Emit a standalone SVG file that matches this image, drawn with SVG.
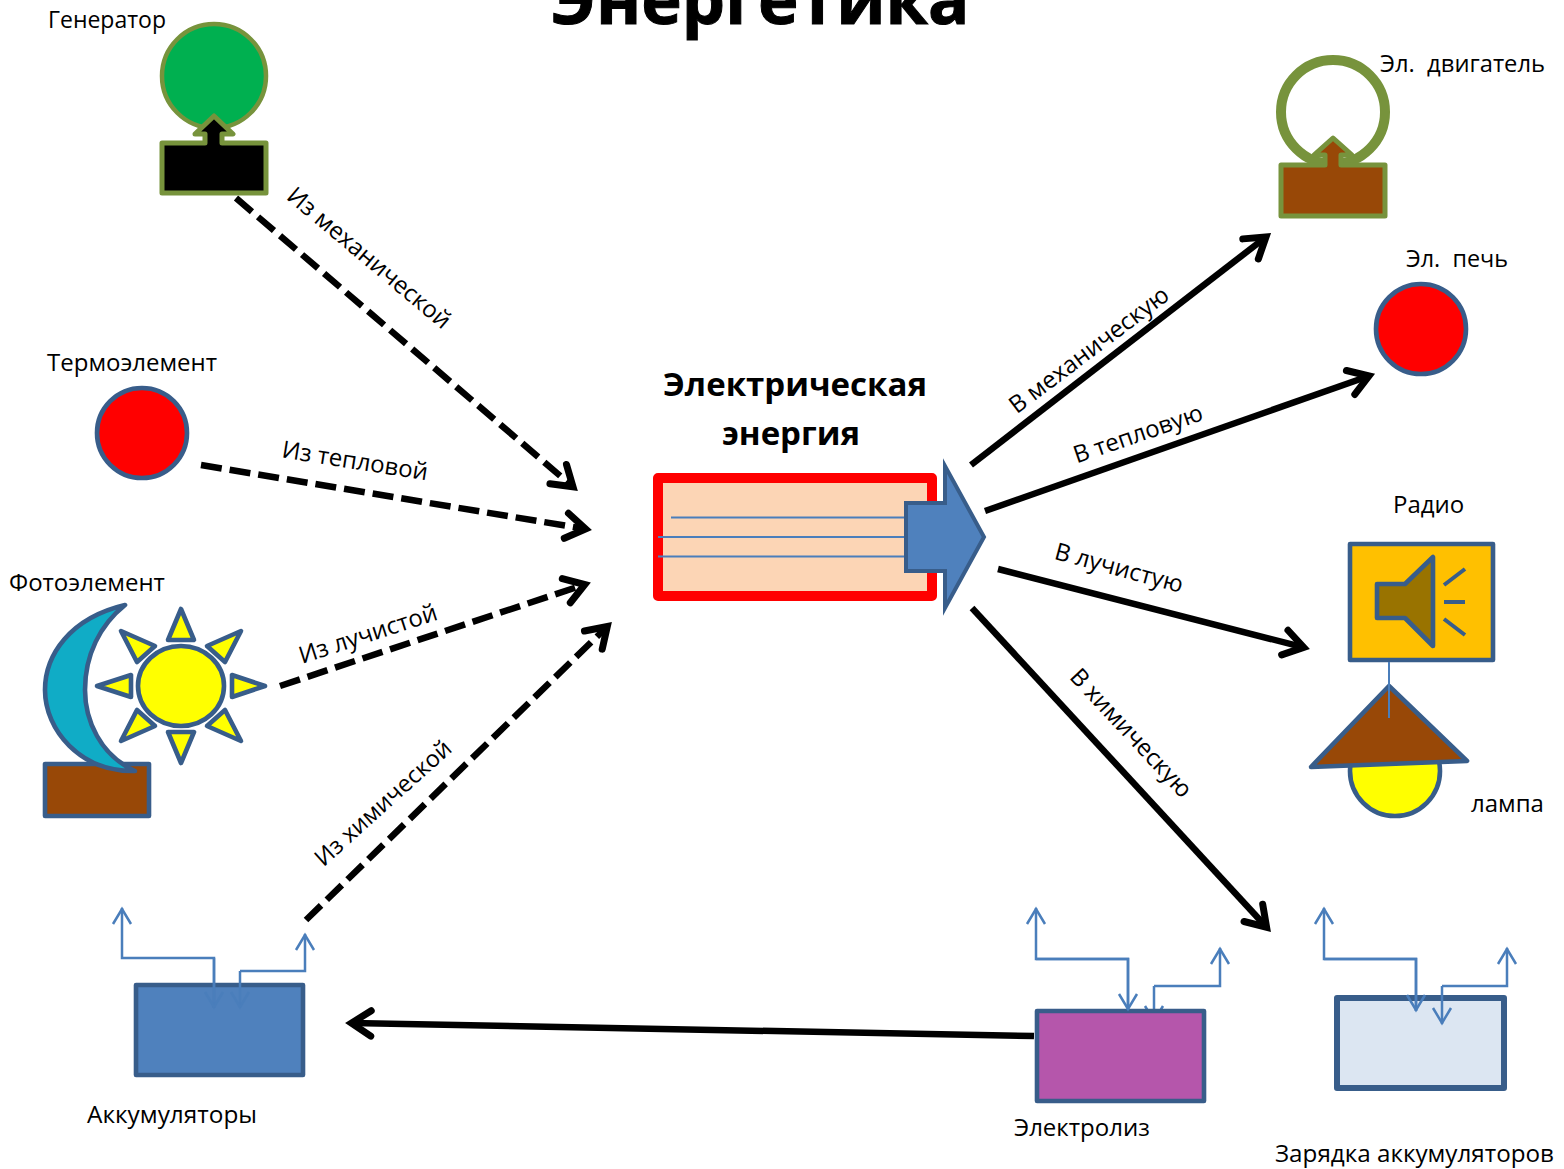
<svg xmlns="http://www.w3.org/2000/svg" width="1564" height="1169" viewBox="0 0 1564 1169">
<style>
text{font-family:"Open Sans","Noto Sans","DejaVu Sans",sans-serif;font-size:24px;fill:#000}
.b{font-weight:700;font-size:33px;text-anchor:middle}
.m{text-anchor:middle}
.arrow{fill:none;stroke:#000;stroke-width:6.500}
.dash{stroke-dasharray:21 8}
.thin{fill:none;stroke:#4a7ebb;stroke-width:2.500;marker-end:url(#ta)}
.dk{stroke:#385d8a;stroke-width:4.600;stroke-linejoin:round}
.gr{stroke:#77933c;stroke-linejoin:round}
.sun{fill:#ff0;stroke:#385d8a;stroke-width:4.600;stroke-linejoin:round}
</style>
<defs>
<marker id="ba" markerUnits="userSpaceOnUse" markerWidth="50" markerHeight="50" refX="36" refY="25" orient="auto"><path d="M16.500,12.300 L36,25 L16.500,37.700" fill="none" stroke="#000" stroke-width="7" stroke-linecap="round" stroke-linejoin="miter" stroke-miterlimit="10"/></marker>
<marker id="ta" markerUnits="userSpaceOnUse" markerWidth="24" markerHeight="24" refX="20" refY="12" orient="auto"><path d="M4,3 L19,12 L4,21" fill="none" stroke="#4a7ebb" stroke-width="2.500"/></marker>
</defs>
<rect width="1564" height="1169" fill="#fff"/>
<text x="760" y="24" class="b" style="font-size:68.500px;stroke:#000;stroke-width:1">Энергетика</text>

<g id="connectors">
<path class="arrow dash" d="M236,198 L573,486.800" marker-end="url(#ba)"/>
<path class="arrow dash" d="M201,465 L585.600,529" marker-end="url(#ba)"/>
<path class="arrow dash" d="M280,686 L584.800,584.500" marker-end="url(#ba)"/>
<path class="arrow dash" d="M306,920 L607.300,626.500" marker-end="url(#ba)"/>
<path class="arrow" d="M971,465 L1266,237" marker-end="url(#ba)"/>
<path class="arrow" d="M985,511 L1369,376" marker-end="url(#ba)"/>
<path class="arrow" d="M998,569 L1303.700,647.400" marker-end="url(#ba)"/>
<path class="arrow" d="M972,608 L1266.600,927.200" marker-end="url(#ba)"/>
<path class="arrow" d="M1034,1036 L351.500,1023.100" marker-end="url(#ba)"/>
</g>
<g id="labels">
<text class="m" transform="translate(369,258) rotate(40)" dy="8">Из механической</text>
<text class="m" transform="translate(355,461) rotate(9)" dy="8">Из тепловой</text>
<text class="m" transform="translate(368,634) rotate(-18)" dy="8">Из лучистой</text>
<text class="m" transform="translate(383,803) rotate(-42)" dy="8" style="font-size:23.500px">Из химической</text>
<text class="m" transform="translate(1089,350) rotate(-37)" dy="8">В механическую</text>
<text class="m" transform="translate(1138,434) rotate(-19)" dy="8">В тепловую</text>
<text class="m" transform="translate(1119,568) rotate(15)" dy="8">В лучистую</text>
<text class="m" transform="translate(1131,733) rotate(47)" dy="8">В химическую</text>
</g>

<g id="generator">
<circle cx="214" cy="76" r="52" fill="#00b050" class="gr" stroke-width="4.500"/>
<path d="M162,143 H205 V134 H195 L214,116 L233,134 H222 V143 H266 V193 H162 Z" fill="#000" class="gr" stroke-width="5"/>
<text x="48" y="28" textLength="118" lengthAdjust="spacingAndGlyphs">Генератор</text>
</g>
<g id="thermo">
<circle cx="142" cy="433" r="45" fill="#f00" class="dk"/>
<text x="47" y="371">Термоэлемент</text>
</g>
<g id="photo">
<rect x="45" y="764" width="104" height="52" fill="#984807" class="dk"/>
<path d="M125,605 C70,618 45,655 45,690 C45,730 80,772 135,771 C100,755 85,720 85,690 C85,655 100,625 125,605 Z" fill="#10acc6" class="dk"/>
<ellipse cx="181" cy="686" rx="43" ry="40" class="sun"/>
<path class="sun" d="M181,609 L194,640 H168 Z"/>
<path class="sun" d="M181,763 L194,732 H168 Z"/>
<path class="sun" d="M265,686 L232,675 V697 Z"/>
<path class="sun" d="M97,686 L131,675 V697 Z"/>
<path class="sun" d="M121,631 L155,646 L137,662 Z"/>
<path class="sun" d="M241,631 L207,646 L225,662 Z"/>
<path class="sun" d="M121,741 L155,726 L137,710 Z"/>
<path class="sun" d="M241,741 L207,726 L225,710 Z"/>
<text x="9" y="591">Фотоэлемент</text>
</g>
<g id="accum">
<rect x="136" y="985" width="167" height="90" fill="#4f81bd" class="dk"/>
<path class="thin" d="M214,1008 V958 H122 V908"/>
<path class="thin" d="M214,958 V1008"/>
<path class="thin" d="M240,971 V1008"/>
<path class="thin" d="M240,971 H305 V934"/>
<text x="87" y="1123" textLength="170" lengthAdjust="spacingAndGlyphs">Аккумуляторы</text>
</g>
<g id="center">
<text x="795" y="396" class="b">Электрическая</text>
<text x="791" y="445" class="b">энергия</text>
<rect x="658" y="478" width="274" height="118" fill="#fcd5b5" stroke="#f00" stroke-width="10" stroke-linejoin="round"/>
<path d="M671,517.500 H905 M658,537 H905 M658,556.500 H905" stroke="#4a7ebb" stroke-width="2" fill="none"/>
<path d="M906,503 H945 V466 L984,537 L945,608 V571 H906 Z" fill="#4f81bd" stroke="#385d8a" stroke-width="4" stroke-miterlimit="10"/>
</g>
<g id="motor">
<circle cx="1333" cy="112" r="52" fill="none" stroke="#77933c" stroke-width="10"/>
<path d="M1281,165 H1325 V155 H1314 L1333,138 L1352,155 H1341 V165 H1385 V216 H1281 Z" fill="#984807" class="gr" stroke-width="5"/>
<text x="1380" y="72" xml:space="preserve" textLength="165" lengthAdjust="spacingAndGlyphs">Эл.  двигатель</text>
</g>
<g id="oven">
<circle cx="1421" cy="329" r="45" fill="#f00" class="dk"/>
<text x="1406" y="267" xml:space="preserve" textLength="102" lengthAdjust="spacingAndGlyphs">Эл.  печь</text>
</g>
<g id="radio">
<rect x="1350" y="544" width="143" height="116" fill="#ffc000" class="dk"/>
<path d="M1377,584 H1405 L1433,557 V646 L1405,618 H1377 Z" fill="#997300" class="dk"/>
<path d="M1444,585 L1465,569 M1444,602 H1465 M1444,619 L1465,635" fill="none" stroke="#385d8a" stroke-width="4"/>
<text x="1393" y="513">Радио</text>
</g>
<g id="lamp">
<circle cx="1395" cy="771" r="45" fill="#ff0" class="dk"/>
<path d="M1389,686 L1467,761 L1311,767 Z" fill="#984807" class="dk"/>
<path d="M1389,662 V718" stroke="#4a7ebb" stroke-width="2" fill="none"/>
<text x="1471" y="812">лампа</text>
</g>
<g id="electrolysis">
<path class="thin" d="M1154,986 V1022"/>
<rect x="1037" y="1011" width="167" height="90" fill="#b556ab" class="dk"/>
<path class="thin" d="M1128,1010 V959 H1036 V908"/>
<path class="thin" d="M1036,959 H1128 V1010"/>
<path class="thin" d="M1154,986 H1220 V948"/>
<text x="1014" y="1136">Электролиз</text>
</g>
<g id="charging">
<rect x="1337" y="998" width="167" height="90" fill="#dce6f2" stroke="#385d8a" stroke-width="6" stroke-linejoin="round"/>
<path class="thin" d="M1416,1011 V959 H1324 V908"/>
<path class="thin" d="M1324,959 H1416 V1011"/>
<path class="thin" d="M1442,986 V1024"/>
<path class="thin" d="M1442,986 H1507 V948"/>
<text x="1275" y="1162" textLength="279" lengthAdjust="spacingAndGlyphs">Зарядка аккумуляторов</text>
</g>
</svg>
